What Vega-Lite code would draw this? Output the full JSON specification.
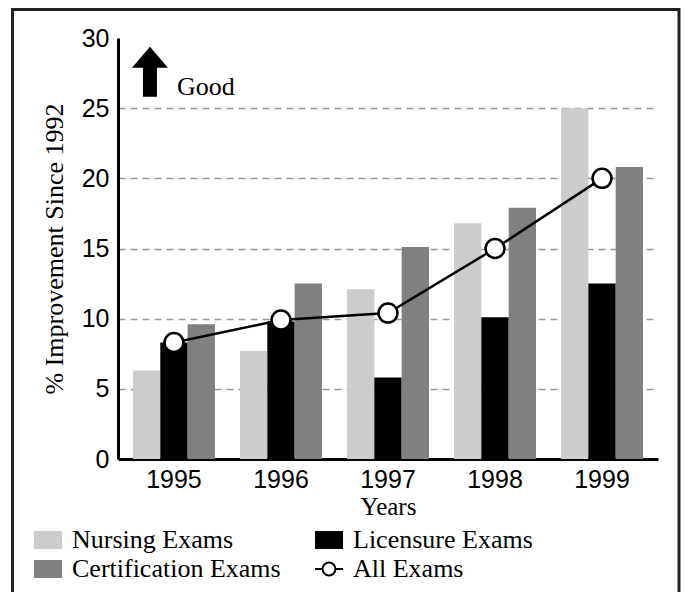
{
  "$schema": "https://vega.github.io/schema/vega-lite/v6.json",
  "autosize": {"type": "none"},
  "width": 540,
  "height": 421,
  "padding": {"left": 118, "top": 38, "right": 26, "bottom": 133},
  "background": "white",
  "config": {
    "view": {"stroke": null},
    "axis": {
      "ticks": false,
      "domainColor": "black",
      "domainWidth": 3,
      "labelColor": "black",
      "labelFont": "Liberation Sans",
      "labelFontSize": 25,
      "titleFont": "Liberation Serif",
      "titleFontSize": 25,
      "titleFontWeight": "normal",
      "titleColor": "black"
    }
  },
  "datasets": {
    "bars": [
      {"year": "1995", "series": "Nursing Exams", "value": 6.3},
      {"year": "1995", "series": "Licensure Exams", "value": 8.3},
      {"year": "1995", "series": "Certification Exams", "value": 9.6},
      {"year": "1996", "series": "Nursing Exams", "value": 7.7},
      {"year": "1996", "series": "Licensure Exams", "value": 9.8},
      {"year": "1996", "series": "Certification Exams", "value": 12.5},
      {"year": "1997", "series": "Nursing Exams", "value": 12.1},
      {"year": "1997", "series": "Licensure Exams", "value": 5.8},
      {"year": "1997", "series": "Certification Exams", "value": 15.1},
      {"year": "1998", "series": "Nursing Exams", "value": 16.8},
      {"year": "1998", "series": "Licensure Exams", "value": 10.1},
      {"year": "1998", "series": "Certification Exams", "value": 17.9},
      {"year": "1999", "series": "Nursing Exams", "value": 25.0},
      {"year": "1999", "series": "Licensure Exams", "value": 12.5},
      {"year": "1999", "series": "Certification Exams", "value": 20.8}
    ],
    "all": [
      {"year": "1995", "series": "All Exams", "value": 8.3},
      {"year": "1996", "series": "All Exams", "value": 9.9},
      {"year": "1997", "series": "All Exams", "value": 10.4},
      {"year": "1998", "series": "All Exams", "value": 15.0},
      {"year": "1999", "series": "All Exams", "value": 20.0}
    ]
  },
  "layer": [
    {
      "data": {"values": [{}]},
      "mark": {"type": "rect", "x": -105.5, "x2": 561, "y": -28.5, "y2": 570, "fill": null, "stroke": "#222222", "strokeWidth": 3},
      "encoding": {}
    },
    {
      "data": {"name": "bars"},
      "mark": {"type": "bar"},
      "encoding": {
        "x": {
          "field": "year", "type": "nominal", "title": "Years",
          "scale": {"paddingInner": 0.234, "paddingOuter": 0.14},
          "axis": {"labelAngle": 0, "labelPadding": 8, "titlePadding": 2, "grid": false, "titleFont": "Liberation Serif"}
        },
        "xOffset": {
          "field": "series", "type": "nominal",
          "sort": ["Nursing Exams", "Licensure Exams", "Certification Exams"],
          "scale": {"paddingInner": 0, "paddingOuter": 0}
        },
        "y": {
          "field": "value", "type": "quantitative",
          "title": "% Improvement Since 1992",
          "scale": {"domain": [0, 30], "nice": false},
          "axis": {
            "values": [0, 5, 10, 15, 20, 25, 30],
            "labelPadding": 9,
            "titlePadding": 14,
            "titleFont": "Liberation Serif",
            "titleFontSize": 26,
            "grid": true,
            "gridColor": "#999999",
            "gridWidth": 1.5,
            "gridDash": [7, 5],
            "gridOpacity": {"condition": {"test": "datum.value === 30 || datum.value === 0", "value": 0}, "value": 1}
          }
        },
        "color": {
          "field": "series", "type": "nominal",
          "scale": {
            "domain": ["Nursing Exams", "Licensure Exams", "Certification Exams", "All Exams"],
            "range": ["#cccccc", "#000000", "#808080", "#ffffff"]
          },
          "legend": {
            "orient": "none",
            "direction": "horizontal",
            "legendX": -85,
            "legendY": 487,
            "columns": 2,
            "title": null,
            "padding": 0,
            "symbolSize": 784,
            "labelFont": "Liberation Serif",
            "labelFontSize": 26,
            "labelColor": "black",
            "labelLimit": 0,
            "labelOffset": 9,
            "columnPadding": 30,
            "rowPadding": 1,
            "symbolOpacity": 1,
            "encode": {
              "symbols": {
                "update": {
                  "shape": {"signal": "datum.value === 'All Exams' ? 'M-1,0L-0.46,0M0.46,0L1,0M0.46,0A0.46,0.46,0,1,1,-0.46,0A0.46,0.46,0,1,1,0.46,0Z' : 'M-1,-0.64L1,-0.64L1,0.64L-1,0.64Z'"},
                  "stroke": {"signal": "datum.value === 'All Exams' ? 'black' : 'transparent'"},
                  "strokeWidth": {"value": 2}
                }
              }
            }
          }
        }
      }
    },
    {
      "data": {"name": "all"},
      "mark": {"type": "line", "color": "black", "strokeWidth": 2.5},
      "encoding": {
        "x": {"field": "year", "type": "nominal"},
        "y": {"field": "value", "type": "quantitative"}
      }
    },
    {
      "data": {"name": "all"},
      "mark": {"type": "point", "shape": "circle", "filled": true, "fill": "white", "stroke": "black", "strokeWidth": 2.5, "size": 360, "opacity": 1},
      "encoding": {
        "x": {"field": "year", "type": "nominal"},
        "y": {"field": "value", "type": "quantitative"}
      }
    },
    {
      "data": {"values": [{}]},
      "mark": {"type": "point", "shape": "M0,-1L0.72,-0.16L0.28,-0.16L0.28,1L-0.28,1L-0.28,-0.16L-0.72,-0.16Z", "size": 2500, "filled": true, "color": "black", "opacity": 1},
      "encoding": {
        "x": {"datum": "1995", "bandPosition": 0.207},
        "y": {"datum": 27.6}
      }
    },
    {
      "data": {"values": [{}]},
      "mark": {"type": "text", "text": "Good", "font": "Liberation Serif", "fontSize": 26, "align": "left", "baseline": "alphabetic", "color": "black"},
      "encoding": {
        "x": {"datum": "1995", "bandPosition": 0.537},
        "y": {"datum": 25.95}
      }
    }
  ]
}
